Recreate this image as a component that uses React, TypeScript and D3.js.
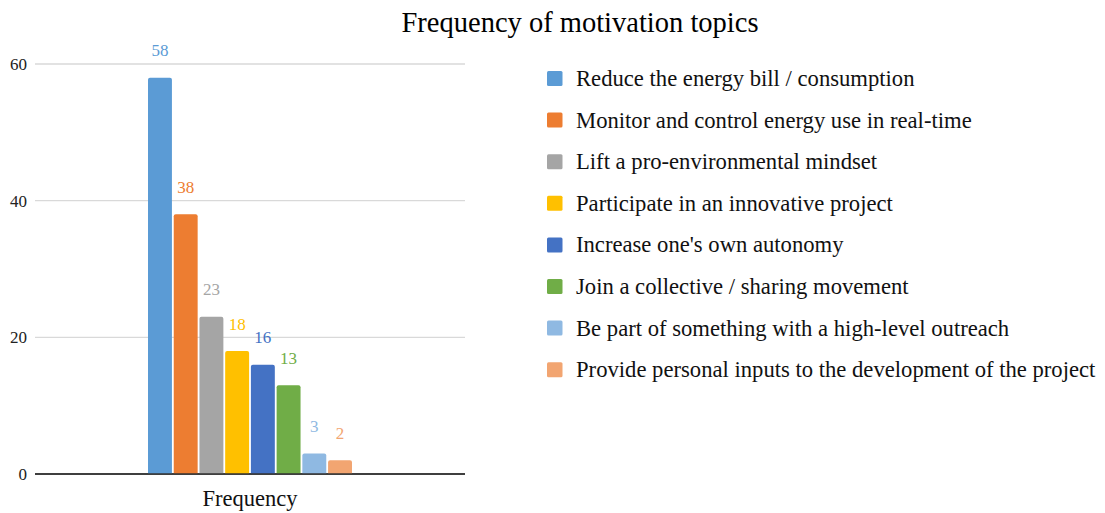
import React from "react";
import * as d3 from "d3";

const categories = ["Frequency"];
const seriesNames = [
  "Reduce the energy bill / consumption",
  "Monitor and control energy use in real-time",
  "Lift a pro-environmental mindset",
  "Participate in an innovative project",
  "Increase one's own autonomy",
  "Join a collective / sharing movement",
  "Be part of something with a high-level outreach",
  "Provide personal inputs to the development of the project",
];
const seriesValues = [58, 38, 23, 18, 16, 13, 3, 2];
const seriesColors = ["#5B9BD5", "#ED7D31", "#A5A5A5", "#FFC000", "#4472C4", "#70AD47", "#8FB9E2", "#F2A571"];
const yTicks = [0, 20, 40, 60];
const title = "Frequency of motivation topics";

export default function App() {
  const W = 1105, H = 513;
  const plotL = 35, plotR = 465, plotT = 64, plotB = 474;
  const y = d3.scaleLinear().domain([0, 60]).range([plotB, plotT]);
  const x0 = d3.scaleBand().domain(categories).range([plotL, plotR]).paddingInner(0).paddingOuter(0.554);
  const x1 = d3.scaleBand().domain(seriesNames).range([0, x0.bandwidth()]).paddingInner(0.07).paddingOuter(0);
  const font = "'Liberation Serif', 'Times New Roman', serif";
  return (
    <svg width={W} height={H} style={{ position: "absolute", left: 0, top: 0, background: "#fff" }} fontFamily={font}>
      <text x={580} y={32} textAnchor="middle" fontSize={28.5} fill="#000">{title}</text>
      {yTicks.map((t) => (
        <g key={t}>
          <line x1={plotL} x2={plotR} y1={y(t)} y2={y(t)} stroke={t === 0 ? "#333" : "#d9d9d9"} strokeWidth={t === 0 ? 1.5 : 1.3} />
          <text x={27} y={y(t) + 6} textAnchor="end" fontSize={17} fill="#222">{t}</text>
        </g>
      ))}
      {categories.map((c) => (
        <g key={c} transform={`translate(${x0(c)},0)`}>
          {seriesNames.map((s, i) => {
            const v = seriesValues[i];
            const bx = x1(s)!;
            const bw = x1.bandwidth();
            return (
              <g key={s}>
                <path
                  d={`M${bx},${y(0)} V${y(v) + 2} Q${bx},${y(v)} ${bx + 2},${y(v)} H${bx + bw - 2} Q${bx + bw},${y(v)} ${bx + bw},${y(v) + 2} V${y(0)} Z`}
                  fill={seriesColors[i]}
                />
                <text x={bx + bw / 2} y={y(v) - 21.5} textAnchor="middle" fontSize={17} fill={seriesColors[i]}>{v}</text>
              </g>
            );
          })}
          <text x={x0.bandwidth() / 2} y={506} textAnchor="middle" fontSize={22.5} fill="#111">{c}</text>
        </g>
      ))}
      <line x1={plotL} x2={plotR} y1={y(0)} y2={y(0)} stroke="#333" strokeWidth={1.5} />
      {seriesNames.map((s, i) => {
        const ly = 78.5 + i * 41.6;
        return (
          <g key={s}>
            <rect x={547} y={ly - 7.5} width={15.5} height={15} rx={1.5} fill={seriesColors[i]} />
            <text x={576} y={ly + 7.5} fontSize={22.65} fill="#111">{s}</text>
          </g>
        );
      })}
    </svg>
  );
}
